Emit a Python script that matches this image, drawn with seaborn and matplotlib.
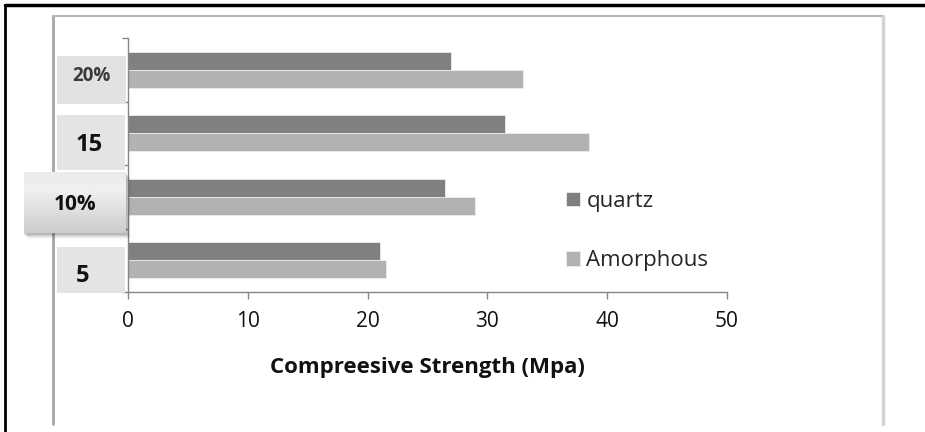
import numpy as np
import pandas as pd
import matplotlib
matplotlib.use("Agg")
import matplotlib.pyplot as plt
from matplotlib.lines import Line2D
from matplotlib.patches import Rectangle
import seaborn as sns

# ---- data -------------------------------------------------------------
categories = ["20%", "15", "10%", "5"]
series = ["quartz", "Amorphous"]
quartz = [27.0, 31.5, 26.5, 21.0]
amorphous = [33.0, 38.5, 29.0, 21.5]
x_ticks = [0, 10, 20, 30, 40, 50]
x_label = "Compreesive Strength (Mpa)"

df = pd.DataFrame({
    "content": categories * 2,
    "material": [series[0]] * len(categories) + [series[1]] * len(categories),
    "strength": quartz + amorphous,
})

# ---- style ------------------------------------------------------------
sns.set_theme(style="white")
plt.rcParams["font.family"] = ["Open Sans", "DejaVu Sans"]

W, H = 925, 432
fig = plt.figure(figsize=(W / 100, H / 100), dpi=100)


def fx(x):
    return x / W


def fy(y):
    return 1 - y / H


ax = fig.add_axes([fx(128), fy(292), fx(727 - 128), (292 - 38) / H])

sns.barplot(
    data=df, x="strength", y="content", hue="material", orient="h",
    order=categories, hue_order=series,
    palette=["#808080", "#b2b2b2"], saturation=1,
    width=0.56, gap=0, errorbar=None,
    edgecolor="#ececec", linewidth=0.6, ax=ax,
)

axis_grey = "#868686"
ax.set_xlim(x_ticks[0], x_ticks[-1])
ax.set_ylim(len(categories) - 0.5, -0.5)
ax.set_xticks(x_ticks)
ax.set_xticklabels([str(t) for t in x_ticks])
ax.tick_params(axis="x", direction="out", length=5, width=1, color=axis_grey,
               labelsize=15, labelcolor="#111111", pad=9, bottom=True)
ax.set_yticks(range(len(categories)))
ax.set_yticklabels([])
ax.set_yticks(np.arange(-0.5, len(categories), 1.0), minor=True)
ax.tick_params(axis="y", which="major", length=0, left=False)
ax.tick_params(axis="y", which="minor", direction="out", length=4, width=1,
               color=axis_grey, left=True)
for side in ("top", "right"):
    ax.spines[side].set_visible(False)
for side in ("left", "bottom"):
    ax.spines[side].set_color(axis_grey)
    ax.spines[side].set_linewidth(1)
ax.set_ylabel("")
ax.set_xlabel(x_label, fontsize=16, fontweight="bold", color="#111111", labelpad=18)

# legend: two square swatches stacked with wide spacing
sns.move_legend(
    ax, "center left", bbox_to_anchor=((566 - 128) / 599, 1 - (231 - 38) / 254),
    frameon=False, title=None, fontsize=16, labelspacing=1.75,
    handlelength=0.62, handleheight=0.62, handletextpad=0.3,
    borderpad=0, borderaxespad=0,
)

# ---- frame lines --------------------------------------------------------
fig.add_artist(Line2D([fx(5), fx(5)], [fy(5), 0], color="black", lw=2, zorder=-3))
fig.add_artist(Line2D([fx(5), 1], [fy(5), fy(5)], color="black", lw=2.5, zorder=-3))
fig.add_artist(Line2D([fx(53), fx(53)], [fy(16), fy(424)], color="#a6a6a6", lw=2, zorder=-3))
fig.add_artist(Line2D([fx(53), fx(883)], [fy(16), fy(16)], color="#b5b5b5", lw=1.5, zorder=-3))
fig.add_artist(Line2D([fx(883), fx(883)], [fy(16), fy(424)], color="#d4d4d4", lw=2.5, zorder=-3))

# ---- category label boxes ---------------------------------------------
# (left, top, right, bottom) in pixels, label centre, font size, weight
label_boxes = [
    (57, 56, 126, 104, (91, 76), 13.5, "bold", "#e2e2e2"),
    (57, 115, 125, 170, (89, 145), 17, "bold", "#e4e4e4"),
    (24, 172, 126, 233, (75, 205), 15, "bold", None),
    (57, 247, 125, 293, (83, 276), 17, "bold", "#e4e4e4"),
]
label_colors = ["#3a3a3a", "#111111", "#111111", "#111111"]

for text, col, (x0, y0, x1, y1, (cx, cy), fs, wt, fc) in zip(categories, label_colors, label_boxes):
    if fc is not None:
        fig.add_artist(Rectangle((fx(x0), fy(y1)), fx(x1 - x0), (y1 - y0) / H,
                                 transform=fig.transFigure, fc=fc, ec="none", zorder=1))
    else:
        # soft drop shadow under a raised, shaded button
        for k, a in enumerate([0.10, 0.08, 0.06, 0.04, 0.03]):
            off = k + 1
            fig.add_artist(Rectangle((fx(x0 + off - 1), fy(y1 + off + 1)),
                                     fx(x1 - x0 + 1), (y1 - y0) / H,
                                     transform=fig.transFigure, fc="black",
                                     ec="none", alpha=a, zorder=4))
        bax = fig.add_axes([fx(x0), fy(y1), fx(x1 - x0), (y1 - y0) / H], zorder=5)
        shade = np.interp(np.linspace(0, 1, 64), [0, 0.3, 0.6, 1.0],
                          [0.92, 0.94, 0.88, 0.80])
        bax.imshow(shade[:, None], cmap="gray", vmin=0, vmax=1, aspect="auto",
                   extent=(0, 1, 0, 1), origin="upper")
        bax.set_axis_off()
    fig.text(fx(cx), fy(cy), text, ha="center", va="center", fontsize=fs,
             fontweight=wt, color=col, zorder=10)

fig.savefig("out.png", dpi=100)
